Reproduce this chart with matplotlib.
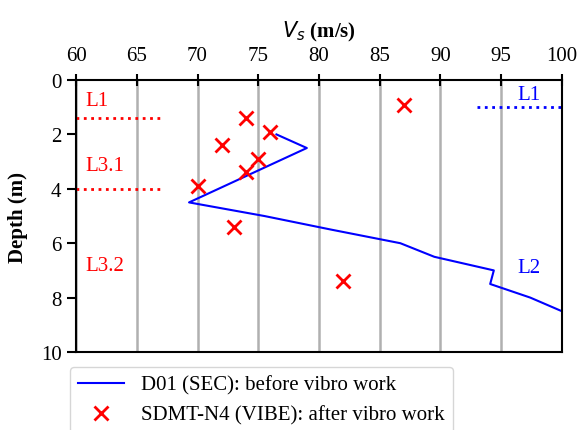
import numpy as np
import matplotlib.pyplot as plt

plt.rcParams['font.family'] = ['Liberation Serif', 'DejaVu Serif']
plt.rcParams['mathtext.fontset'] = 'dejavusans'

# D01 (SEC) profile before vibro work
sec_vs = [76.5, 79.0, 69.3, 75.5, 81.0, 86.7, 89.5, 94.4, 94.1, 97.4, 100.0]
sec_depth = [2.0, 2.5, 4.5, 5.0, 5.5, 6.0, 6.5, 7.0, 7.5, 8.0, 8.5]

# SDMT-N4 (VIBE) points after vibro work
sdmt_vs = [87, 74, 76, 72, 75, 74, 70, 73, 82]
sdmt_depth = [0.9, 1.4, 1.9, 2.4, 2.9, 3.4, 3.9, 5.4, 7.4]

xticks = [60, 65, 70, 75, 80, 85, 90, 95, 100]
yticks = [0, 2, 4, 6, 8, 10]

fs = 15

fig = plt.figure(figsize=(5.81, 4.31), dpi=100)
ax = fig.add_axes([0.131, 0.181, 0.836, 0.631])

ax.plot(sec_vs, sec_depth, color='blue', lw=1.5, label='D01 (SEC): before vibro work')
ax.plot(sdmt_vs, sdmt_depth, 'x', color='red', ms=10, mew=2, label='SDMT-N4 (VIBE): after vibro work')

# layer boundaries
ax.plot([60, 67], [1.4, 1.4], ':', color='red', lw=2)
ax.plot([60, 67], [4.0, 4.0], ':', color='red', lw=2)
ax.plot([93, 100], [1.0, 1.0], ':', color='blue', lw=2)
ax.text(60.8, 0.9, 'L1', color='red', fontsize=fs)
ax.text(60.8, 3.3, 'L3.1', color='red', fontsize=fs)
ax.text(60.8, 7.0, 'L3.2', color='red', fontsize=fs)
ax.text(96.3, 0.7, 'L1', color='blue', fontsize=fs)
ax.text(96.3, 7.05, 'L2', color='blue', fontsize=fs)

ax.set_xlim(60, 100)
ax.set_ylim(10, 0)
ax.set_xticks(xticks)
ax.set_yticks(yticks)
ax.xaxis.tick_top()
ax.xaxis.set_label_position('top')
ax.tick_params(axis='x', direction='inout', length=8, width=1.5, labelsize=fs, pad=7)
ax.tick_params(axis='y', direction='out', length=6.5, width=1.5, labelsize=fs, pad=4)
ax.grid(axis='x', color='#b0b0b0', lw=1.8)
ax.set_axisbelow(True)
for s in ax.spines.values():
    s.set_linewidth(1.5)

ax.set_xlabel(r'$V_s$ (m/s)', fontsize=fs, fontweight='bold', labelpad=7)
ax.set_ylabel('Depth (m)', fontsize=fs, fontweight='bold', labelpad=9)

fig.legend(loc='upper left', bbox_to_anchor=(70 / 581, 1 - 368 / 431),
           borderaxespad=0, fontsize=fs, framealpha=0.8, handlelength=2.2)

fig.savefig('out.png', dpi=100)
